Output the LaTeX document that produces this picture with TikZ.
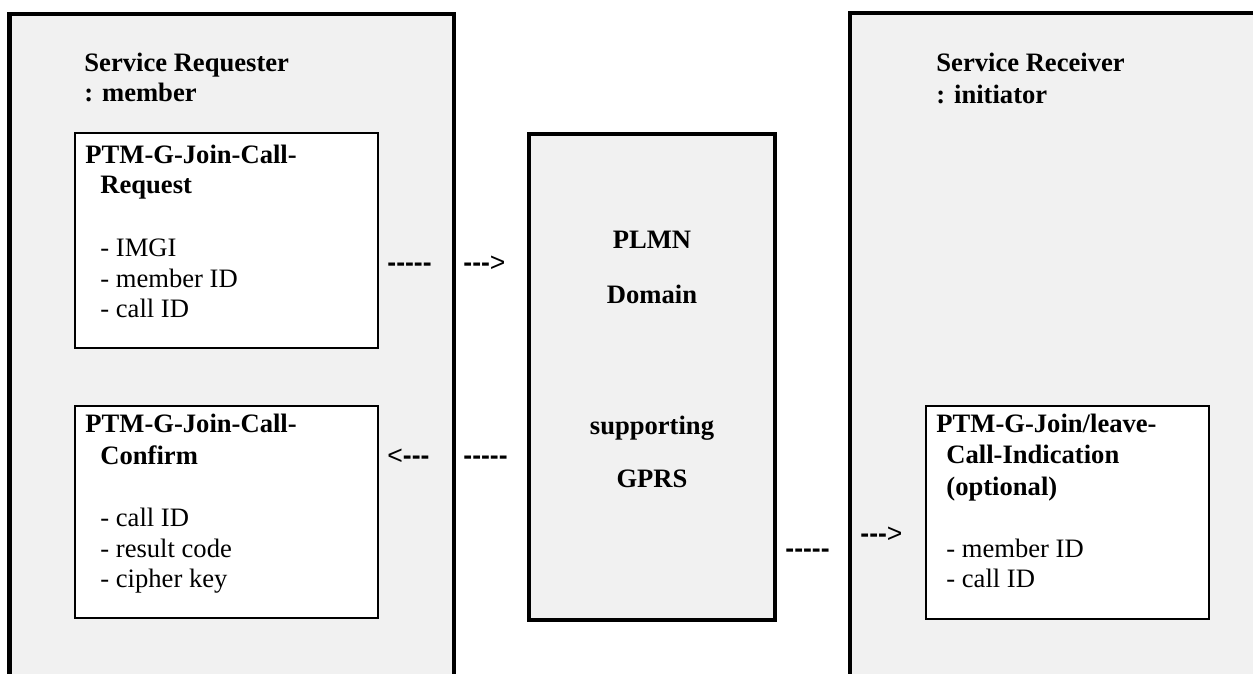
\documentclass[tikz,border=0pt]{standalone}
\usepackage{fontspec}
\setmainfont{Liberation Serif}
\newfontfamily\dashfont[Ligatures=TeXOff]{Liberation Sans}
\usepackage{tikz}
\definecolor{boxgray}{HTML}{F1F1F1}
\tikzset{
  sidebox/.style={line width=2.2pt},
  domainbox/.style={draw,line width=2.2pt,fill=boxgray,inner sep=0pt},
  msgbox/.style={draw,line width=1.1pt,fill=white,inner sep=0pt},
  hd/.style={anchor=base west,inner sep=0pt,font=\fontsize{13.3}{15.5}\selectfont\bfseries},
  item/.style={anchor=base west,inner sep=0pt,font=\fontsize{13.3}{15.5}\selectfont},
  dom/.style={anchor=base,inner sep=0pt,font=\fontsize{13.3}{15.5}\selectfont\bfseries},
  dashtxt/.style={anchor=base west,inner sep=0pt,font=\fontsize{13.3}{15.5}\selectfont\dashfont},
}
\newcommand{\dsh}[1]{\textbf{#1}}
\begin{document}
\begin{tikzpicture}[x=0.5pt,y=-0.5pt]
  \useasboundingbox (0,0) rectangle (1253,674);
  \clip (0,0) rectangle (1253,674);
  % service requester side
  \fill[boxgray] (9.5,14) rectangle (454,690);
  \draw[sidebox] (9.5,690) -- (9.5,14) -- (454,14) -- (454,690);
  % service receiver side
  \fill[boxgray] (850,13) rectangle (1270,690);
  \draw[sidebox] (850,690) -- (850,13) -- (1270,13);
  \node[hd] (sreq) at (84,72) {Service Requester};
  \node[hd] (sreqb) at (84,102) {: member};
  \node[hd] (srcv) at (936,72) {Service Receiver};
  \node[hd] (srcvb) at (936,104) {: initiator};
  % PLMN domain
  \node[domainbox,minimum width=123pt,minimum height=243pt] (plmn) at (652,377) {};
  \node[dom] (plmna) at (plmn.center |- 0,248) {PLMN};
  \node[dom] (plmnb) at (plmn.center |- 0,303) {Domain};
  \node[dom] (plmnc) at (plmn.center |- 0,434) {supporting};
  \node[dom] (plmnd) at (plmn.center |- 0,487) {GPRS};
  % request
  \node[msgbox,minimum width=151.5pt,minimum height=107.5pt] (req) at (226.5,240.5) {};
  \node[hd] (reqa) at (85,163) {PTM-G-Join-Call-};
  \node[hd] (reqb) at (100,193) {Request};
  \node[item] (reqc) at (100,256) {- IMGI};
  \node[item] (reqd) at (100,287) {- member ID};
  \node[item] (reqe) at (100,317) {- call ID};
  % confirm
  \node[msgbox,minimum width=151.5pt,minimum height=106pt] (conf) at (226.5,512) {};
  \node[hd] (confa) at (85,432) {PTM-G-Join-Call-};
  \node[hd] (confb) at (100,464) {Confirm};
  \node[item] (confc) at (100,526) {- call ID};
  \node[item] (confd) at (100,557) {- result code};
  \node[item] (confe) at (100,587) {- cipher key};
  % indication
  \node[msgbox,minimum width=141.5pt,minimum height=106.5pt] (ind) at (1067.5,512.5) {};
  \node[hd] (inda) at (936,432) {PTM-G-Join/leave-};
  \node[hd] (indb) at (946,463) {Call-Indication};
  \node[hd] (indc) at (946,495) {(optional)};
  \node[item] (indd) at (946,557) {- member ID};
  \node[item] (inde) at (946,587) {- call ID};
  % dashed signs
  \node[dashtxt] (ra) at (387,271) {\dsh{-----}};
  \node[dashtxt] (rb) at (463,271) {\dsh{---}>};
  \node[dashtxt] (ca) at (387,464) {<\dsh{---}};
  \node[dashtxt] (cb) at (463,464) {\dsh{-----}};
  \node[dashtxt] (ia) at (785,557) {\dsh{-----}};
  \node[dashtxt] (ib) at (860,542) {\dsh{---}>};
\end{tikzpicture}
\end{document}
